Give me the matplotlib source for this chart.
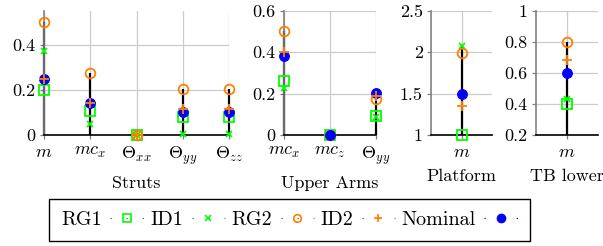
import numpy as np
import matplotlib
matplotlib.use('Agg')
import matplotlib.pyplot as plt
from matplotlib.lines import Line2D

plt.rcParams['font.family'] = 'serif'
plt.rcParams['font.serif'] = ['cmr10']
plt.rcParams['mathtext.fontset'] = 'cm'
plt.rcParams['axes.formatter.use_mathtext'] = True
plt.rcParams['axes.unicode_minus'] = False
plt.rcParams['lines.scale_dashes'] = False

nan = np.nan

# ---------------- data ----------------
groups = ['Struts', 'Upper Arms', 'Platform', 'TB lower']
struts_params = [r'$m$', r'$mc_x$', r'$\Theta_{xx}$', r'$\Theta_{yy}$', r'$\Theta_{zz}$']
arms_params = [r'$mc_x$', r'$mc_z$', r'$\Theta_{yy}$']
platform_params = [r'$m$']
tb_params = [r'$m$']

series_names = ['RG1', 'ID1', 'RG2', 'ID2', 'Nominal']

struts_rg1 = [0.20, 0.107, 0.0, 0.081, 0.081]
struts_id1 = [0.373, 0.048, 0.0, 0.006, 0.006]
struts_rg2 = [0.50, 0.277, 0.0, 0.203, 0.203]
struts_id2 = [0.25, 0.141, 0.0, 0.116, 0.116]
struts_nominal = [0.25, 0.141, nan, 0.10, 0.10]

arms_rg1 = [0.259, 0.0, 0.09]
arms_id1 = [0.229, 0.0, 0.088]
arms_rg2 = [0.504, 0.0, 0.172]
arms_id2 = [0.40, nan, 0.19]
arms_nominal = [0.38, 0.0, 0.205]

platform_rg1 = [1.0]
platform_id1 = [2.076]
platform_rg2 = [1.995]
platform_id2 = [1.35]
platform_nominal = [1.49]

tb_rg1 = [0.398]
tb_id1 = [0.432]
tb_rg2 = [0.80]
tb_id2 = [0.684]
tb_nominal = [0.60]

struts_yticks = [0, 0.2, 0.4]
arms_yticks = [0, 0.2, 0.4, 0.6]
platform_yticks = [1, 1.5, 2, 2.5]
tb_yticks = [0.2, 0.4, 0.6, 0.8, 1]

struts_ylim = (0, 0.55)
arms_ylim = (0, 0.6)
platform_ylim = (1, 2.5)
tb_ylim = (0.2, 1)

# ---------------- styles ----------------
GREEN = '#00ff00'
ORANGE = '#ff8000'
BLUE = '#0000ff'
styles = [
    dict(marker='s', mfc='none', mec=GREEN, ms=7, mew=1.3),
    dict(marker='x', mfc=GREEN, mec=GREEN, ms=4.5, mew=1.3),
    dict(marker='o', mfc='none', mec=ORANGE, ms=7, mew=1.3),
    dict(marker='+', mfc=ORANGE, mec=ORANGE, ms=7, mew=1.3),
    dict(marker='o', mfc=BLUE, mec=BLUE, ms=7, mew=0.8),
]
legend_ms = [6, 4, 5.5, 6, 6.5]
legend_dot_colors = ['#555555', '#555555', '#555555', '#555555', BLUE]
draw_order = [0, 1, 2, 4, 3]

fig = plt.figure(figsize=(6.03, 2.46), dpi=100)
W, H = 603, 246

panels = [
    (groups[0], struts_params, [struts_rg1, struts_id1, struts_rg2, struts_id2, struts_nominal],
     struts_yticks, struts_ylim, (44, 229)),
    (groups[1], arms_params, [arms_rg1, arms_id1, arms_rg2, arms_id2, arms_nominal],
     arms_yticks, arms_ylim, (284, 376)),
    (groups[2], platform_params, [platform_rg1, platform_id1, platform_rg2, platform_id2, platform_nominal],
     platform_yticks, platform_ylim, (431, 492)),
    (groups[3], tb_params, [tb_rg1, tb_id1, tb_rg2, tb_id2, tb_nominal],
     tb_yticks, tb_ylim, (536, 598)),
]

top_px, bot_px = 11, 135
FS = 13

for name, params, series, yticks, ylim, (l, r) in panels:
    ax = fig.add_axes([l / W, 1 - bot_px / H, (r - l) / W, (bot_px - top_px) / H])
    n = len(params)
    x = np.arange(n)
    if n == 1:
        ax.set_xlim(-1, 1)
    else:
        ax.set_xlim(0, n - 1)
    ax.set_ylim(*ylim)
    ax.set_xticks(x)
    ax.set_xticklabels(params, fontsize=FS)
    ax.set_yticks(yticks)
    ax.set_yticklabels(['%g' % v for v in yticks], fontsize=FS)
    ax.grid(True, color='#cccccc', lw=0.9)
    ax.set_axisbelow(True)
    for s in ['top', 'right']:
        ax.spines[s].set_visible(False)
    ax.spines['left'].set_color('#808080')
    ax.spines['left'].set_linewidth(1.2)
    ax.spines['bottom'].set_color('black')
    ax.spines['bottom'].set_linewidth(1.2)
    ax.tick_params(axis='both', length=3, color='#808080', width=0.9, pad=3)
    ax.tick_params(axis='x', pad=4)
    arr = np.array(series, dtype=float)
    tops = np.nanmax(arr, axis=0)
    ax.vlines(x, ylim[0], tops, color='black', lw=1.6, zorder=2, clip_on=False)
    for i in draw_order:
        st = styles[i]
        ax.plot(x, series[i], linestyle='none', clip_on=False, zorder=3 + draw_order.index(i), **st)
    ax.set_xlabel(name, fontsize=FS, labelpad=6)

# legend: label followed by marker (with small dots on each side)
LFS = 14.5
HL = 1.66
Wpt = HL * LFS
d = 0.9
gap = Wpt / 2 - 1.5 * d
dash = (0, (d, gap, d, gap, d, 200))
handles = []
for st, ms, dc in zip(styles, legend_ms, legend_dot_colors):
    kw = dict(st)
    kw['ms'] = ms
    kw['mew'] = 1.2 if kw['marker'] != 'o' or kw['mfc'] == 'none' else 0.5
    handles.append(Line2D([0], [0], linestyle=dash, lw=0.9, color=dc, **kw))
leg = fig.legend(handles, series_names, loc='center', ncol=5, markerfirst=False,
                 bbox_to_anchor=(289.5 / W, 1 - 220 / H), fontsize=LFS,
                 frameon=True, fancybox=False, edgecolor='black', framealpha=1,
                 handlelength=HL, handletextpad=0.42, columnspacing=0.32,
                 borderpad=0.6, borderaxespad=0)
leg.get_frame().set_linewidth(1.0)

fig.savefig('out.png', dpi=100)
